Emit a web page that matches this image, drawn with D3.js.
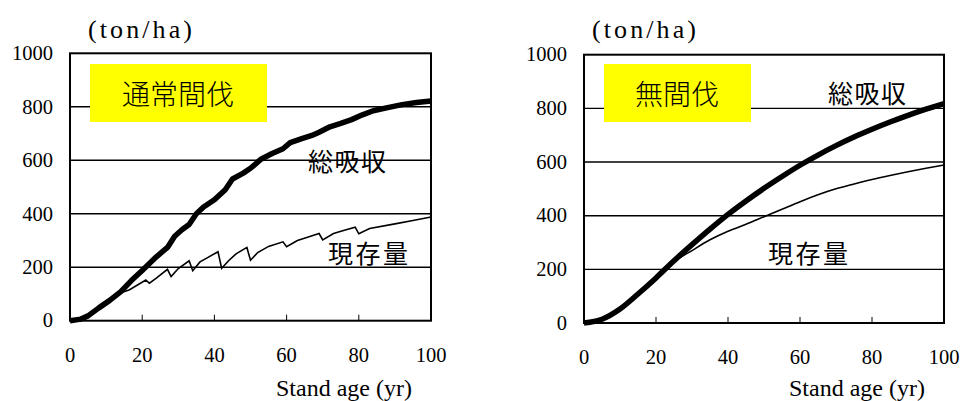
<!DOCTYPE html>
<html>
<head>
<meta charset="utf-8">
<script src="https://cdn.jsdelivr.net/npm/d3@7"></script>
<style>
  html, body { margin: 0; padding: 0; background: #fff; }
  svg { display: block; }
</style>
</head>
<body>
<svg id="chart" width="960" height="401"></svg>
<script>
// Axis ticks shared by both panels
const yTicks = [0, 200, 400, 600, 800, 1000];
const xTicks = [0, 20, 40, 60, 80, 100];

// 通常間伐: cumulative total uptake (総吸収) and standing stock (現存量), ton/ha
const thinnedTotalAge = [0, 3, 5, 8, 11, 14, 17, 20, 22, 24, 27, 29, 31, 33, 35, 37, 40, 43, 45, 48, 50, 53, 56, 59, 61, 64, 67, 69, 72, 75, 78, 81, 84, 88, 92, 96, 100];
const thinnedTotal    = [0, 6, 18, 48, 76, 108, 150, 188, 214, 240, 274, 316, 340, 360, 400, 425, 452, 490, 530, 552, 570, 605, 625, 643, 666, 680, 693, 705, 725, 738, 752, 770, 785, 797, 808, 816, 822];
const thinnedStockAge = [0, 3, 5, 8, 11, 14, 16.5, 21, 22, 24, 27, 28, 30, 33, 34, 36, 38, 41, 42, 44, 46, 49, 50, 52, 55, 59, 60, 63, 66, 69, 70, 73, 76, 79, 80, 83, 90, 95, 100];
const thinnedStock    = [0, 6, 18, 48, 76, 104, 116, 152, 140, 160, 192, 165, 195, 224, 187, 220, 235, 258, 196, 225, 250, 274, 226, 255, 278, 295, 277, 300, 313, 326, 302, 326, 338, 350, 325, 345, 362, 375, 388];

// 無間伐: no thinning
const unthinnedAge   = [0, 5, 10, 15, 20, 25, 30, 35, 40, 45, 50, 55, 60, 65, 70, 75, 80, 85, 90, 95, 100];
const unthinnedTotal = [0, 14, 52, 108, 168, 232, 292, 350, 405, 455, 502, 546, 588, 626, 661, 693, 722, 749, 774, 797, 818];
const unthinnedStock = [0, 14, 52, 108, 168, 228, 270, 310, 342, 368, 396, 424, 452, 478, 500, 518, 535, 550, 564, 577, 589];

const panels = [
  {
    title: "通常間伐", x0: 70, x1: 431, yTop: 53.3, yBot: 320.7,
    total: thinnedTotalAge.map((a, i) => [a, thinnedTotal[i]]),
    stock: thinnedStockAge.map((a, i) => [a, thinnedStock[i]]),
    curve: d3.curveLinear,
    box: [90, 64, 177, 58], titleX: 122,
    totalLabel: [308, 160], stockLabel: [328, 252],
    unitX: 88, unitY: 37.5, xLabelX: 344, xLabelY: 395.5, xTickY: 362
  },
  {
    title: "無間伐", x0: 584, x1: 944, yTop: 54.7, yBot: 323,
    total: unthinnedAge.map((a, i) => [a, unthinnedTotal[i]]),
    stock: unthinnedAge.map((a, i) => [a, unthinnedStock[i]]),
    curve: d3.curveMonotoneX,
    box: [604, 64, 147, 58], titleX: 635,
    totalLabel: [828, 92], stockLabel: [768, 252],
    unitX: 592, unitY: 37.5, xLabelX: 857, xLabelY: 395.5, xTickY: 363.5
  }
];

const svg = d3.select("#chart");
const serif = "'Liberation Serif', 'Times New Roman', serif";
const gothic = "'Noto Sans CJK JP', sans-serif";

panels.forEach(p => {
  const x = d3.scaleLinear().domain([0, 100]).range([p.x0, p.x1]);
  const y = d3.scaleLinear().domain([0, 1000]).range([p.yBot, p.yTop]);
  const g = svg.append("g");

  // horizontal gridlines
  g.selectAll("line.grid")
    .data(yTicks.filter(t => t > 0 && t < 1000))
    .join("line")
    .attr("x1", p.x0).attr("x2", p.x1)
    .attr("y1", d => y(d)).attr("y2", d => y(d))
    .attr("stroke", "#000").attr("stroke-width", 1.4);

  // label box
  g.append("rect")
    .attr("x", p.box[0]).attr("y", p.box[1])
    .attr("width", p.box[2]).attr("height", p.box[3])
    .attr("fill", "#ffff00");
  g.append("text")
    .attr("x", p.titleX).attr("y", p.box[1] + p.box[3] / 2)
    .attr("dominant-baseline", "central")
    .attr("font-family", gothic).attr("font-size", 28)
    .attr("font-weight", 300)
    .text(p.title);

  const line = d3.line().x(d => x(d[0])).y(d => y(d[1])).curve(p.curve);

  g.append("path").datum(p.stock)
    .attr("d", line).attr("fill", "none")
    .attr("stroke", "#000").attr("stroke-width", 1.6)
    .attr("stroke-linejoin", "miter");
  g.append("path").datum(p.total)
    .attr("d", line).attr("fill", "none")
    .attr("stroke", "#000").attr("stroke-width", 5.5)
    .attr("stroke-linejoin", "round");

  // frame
  g.append("rect")
    .attr("x", p.x0).attr("y", y(1000))
    .attr("width", p.x1 - p.x0).attr("height", p.yBot - y(1000))
    .attr("fill", "none").attr("stroke", "#000").attr("stroke-width", 2);

  // inner x ticks
  g.selectAll("line.xt")
    .data(xTicks.filter(t => t > 0 && t < 100))
    .join("line")
    .attr("x1", d => x(d)).attr("x2", d => x(d))
    .attr("y1", p.yBot).attr("y2", p.yBot - 6)
    .attr("stroke", "#000").attr("stroke-width", 1);

  // y tick labels
  g.selectAll("text.yt")
    .data(yTicks)
    .join("text")
    .attr("x", p.x0 - 17).attr("y", d => y(d))
    .attr("dy", "0.33em")
    .attr("text-anchor", "end")
    .attr("font-family", serif).attr("font-size", 20.5)
    .text(d => d);

  // x tick labels
  g.selectAll("text.xtl")
    .data(xTicks)
    .join("text")
    .attr("x", d => x(d)).attr("y", p.xTickY)
    .attr("text-anchor", "middle")
    .attr("font-family", serif).attr("font-size", 20.5)
    .text(d => d);

  g.append("text")
    .attr("x", p.xLabelX).attr("y", p.xLabelY)
    .attr("text-anchor", "middle")
    .attr("font-family", serif).attr("font-size", 24)
    .text("Stand age (yr)");

  g.append("text")
    .attr("x", p.unitX).attr("y", p.unitY)
    .attr("font-family", serif).attr("font-size", 26)
    .attr("textLength", 104).attr("lengthAdjust", "spacing")
    .text("(ton/ha)");

  g.append("text")
    .attr("x", p.totalLabel[0]).attr("y", p.totalLabel[1])
    .attr("dominant-baseline", "central")
    .attr("font-family", gothic).attr("font-size", 25)
    .attr("letter-spacing", 1.5)
    .text("総吸収");
  g.append("text")
    .attr("x", p.stockLabel[0]).attr("y", p.stockLabel[1])
    .attr("dominant-baseline", "central")
    .attr("font-family", gothic).attr("font-size", 25)
    .attr("letter-spacing", 2.5)
    .text("現存量");
});
</script>
</body>
</html>
